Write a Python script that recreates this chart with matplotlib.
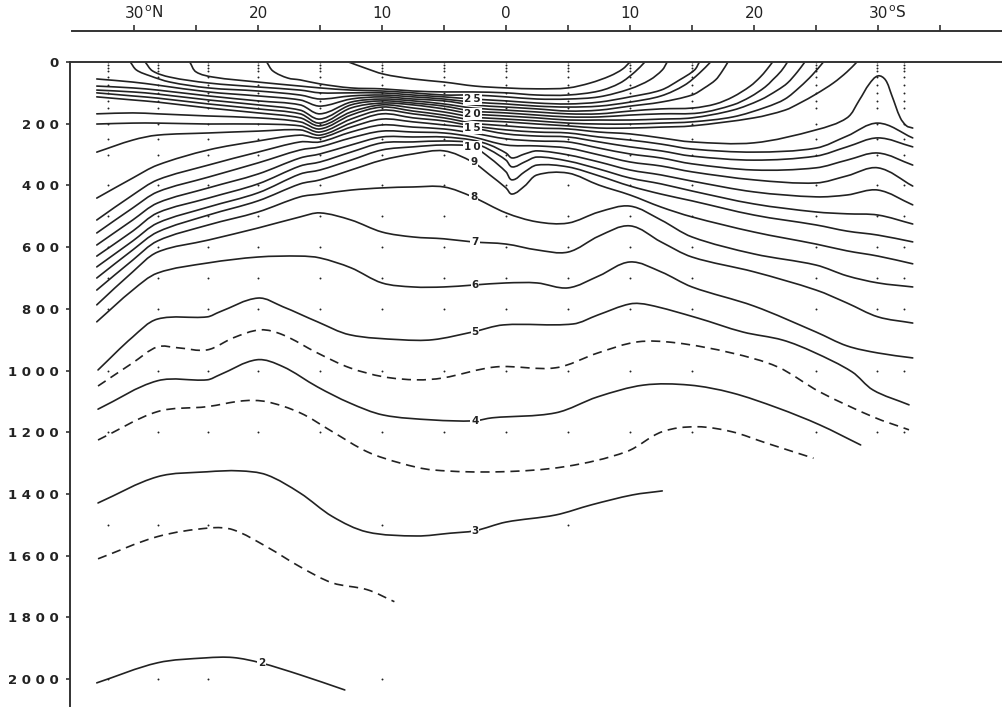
import numpy as np
import matplotlib.pyplot as plt
from matplotlib.path import Path
from matplotlib.patches import PathPatch

plt.rcParams['font.family'] = ['DejaVu Sans']

# latitude axis: negative = north, positive = south ; depth in metres
lat_cols = [-33.0, -30.1, -28.1, -24.0, -20.0, -16.6, -15.0, -12.5, -10.0, -7.5, -5.0, -2.7,
            0.0, 2.5, 5.0, 7.5, 10.0, 12.5, 15.0, 20.0, 25.0, 27.5, 30.0, 32.8]
# same columns with extra points through the equatorial trough
lat_v = [-33.0, -30.1, -28.1, -24.0, -20.0, -16.6, -15.0, -12.5, -10.0, -7.5, -5.0, -2.7, -1.3,
         0.0, 0.5, 1.5, 2.5, 5.0, 7.5, 10.0, 12.5, 15.0, 20.0, 25.0, 27.5, 30.0, 32.8]

d6 = [842, 739, 684, 651, 632, 629, 635, 667, 716, 729, 729, 723, 716, 716, 732, 693, 648, 680, 729, 791, 875, 920, 943, 959]
d7 = [787, 680, 616, 577, 538, 502, 489, 512, 551, 567, 573, 583, 590, 609, 616, 564, 531, 583, 632, 680, 739, 781, 826, 846]
d8 = [739, 642, 580, 528, 486, 437, 428, 415, 408, 405, 405, 437, 489, 518, 522, 486, 467, 512, 567, 622, 658, 693, 716, 729]
d9 = [700, 609, 551, 496, 450, 395, 382, 350, 318, 298, 288, 324, 366, 408, 428, 402, 366, 360, 399, 431, 470, 502, 551, 590, 612, 629, 654]
d10 = [664, 580, 522, 470, 424, 363, 350, 318, 285, 275, 269, 275, 311, 356, 382, 356, 334, 340, 369, 402, 428, 450, 496, 528, 548, 561, 583]
d11 = [629, 548, 489, 441, 395, 337, 324, 292, 262, 259, 256, 262, 285, 318, 340, 324, 308, 321, 347, 376, 395, 418, 460, 486, 492, 496, 525]
d12 = [593, 512, 457, 408, 363, 311, 298, 269, 243, 243, 243, 253, 269, 295, 311, 298, 288, 301, 324, 350, 366, 386, 421, 437, 431, 415, 463]
d13 = [554, 473, 421, 373, 327, 285, 275, 246, 224, 227, 230, 243, 269, 272, 279, 301, 324, 337, 356, 382, 392, 369, 343, 402]
d14 = [512, 431, 382, 334, 292, 259, 259, 227, 204, 211, 217, 230, 249, 256, 259, 279, 298, 311, 330, 350, 343, 318, 295, 334]
d15 = [441, 376, 334, 285, 256, 237, 246, 211, 185, 194, 204, 214, 233, 240, 243, 259, 275, 288, 305, 318, 305, 275, 246, 275]
d16 = [292, 253, 237, 230, 224, 220, 237, 198, 168, 181, 191, 207, 220, 227, 230, 243, 253, 266, 282, 292, 279, 240, 198, 246]

lat17 = [-33.0, -30.1, -28.1, -24.0, -20.0, -16.6, -15.0, -12.5, -10.0, -7.5, -5.0, -2.7, 0.0, 2.5, 5.0,
         7.5, 10.0, 12.5, 15.0, 20.0, 25.0, 27.5, 28.5, 29.3, 30.0, 30.6, 31.1, 31.8, 32.3, 32.8]
d17 = [201, 198, 198, 201, 201, 207, 227, 185, 156, 168, 181, 198, 207, 214, 217,
       227, 233, 246, 259, 262, 220, 181, 123, 71, 45, 58, 107, 181, 207, 214]
lat18 = [-33.0, -30.1, -28.1, -24.0, -20.0, -16.6, -15.0, -12.5, -10.0, -7.5, -5.0, -2.7, 0.0, 2.5, 5.0,
         7.5, 10.0, 12.5, 15.0, 20.0, 22.5, 23.7, 25.0, 26.4, 27.5, 28.3]
d18 = [168, 165, 168, 175, 181, 194, 217, 172, 146, 159, 172, 188, 194, 201, 207,
       214, 214, 211, 207, 181, 156, 133, 104, 68, 32, 0]
lat19 = [-33.0, -30.1, -28.1, -24.0, -20.0, -16.6, -15.0, -12.5, -10.0, -7.5, -5.0, -2.7, 0.0, 2.5, 5.0,
         7.5, 10.0, 12.5, 15.0, 18.3, 21.0, 22.5, 23.7, 24.7, 25.6]
d19 = [113, 123, 130, 149, 165, 181, 207, 162, 139, 149, 162, 178, 185, 191, 198,
       201, 201, 198, 194, 178, 146, 120, 81, 42, 0]
lat20 = [-33.0, -30.1, -28.1, -24.0, -20.0, -16.6, -15.0, -12.5, -10.0, -7.5, -5.0, -2.7, 0.0, 2.5, 5.0,
         7.5, 10.0, 12.5, 15.0, 18.3, 20.5, 21.9, 22.7, 23.5, 24.1]
d20 = [100, 110, 117, 136, 152, 168, 198, 149, 133, 139, 152, 168, 175, 181, 188,
       188, 188, 185, 181, 156, 123, 91, 68, 32, 0]
lat21 = [-33.0, -30.1, -28.1, -24.0, -20.0, -16.6, -15.0, -12.5, -10.0, -7.5, -5.0, -2.7, 0.0, 2.5, 5.0,
         7.5, 10.0, 12.5, 15.6, 18.3, 19.7, 20.9, 21.5, 22.2, 22.7]
d21 = [91, 97, 104, 123, 139, 156, 185, 139, 126, 133, 143, 159, 165, 172, 178,
       178, 172, 168, 165, 139, 113, 81, 58, 29, 0]
lat22 = [-33.0, -30.1, -28.1, -24.0, -20.0, -16.6, -15.0, -12.5, -10.0, -7.5, -5.0, -2.7, 0.0, 2.5, 5.0,
         7.5, 10.0, 12.5, 15.1, 16.9, 18.3, 19.7, 20.5, 21.0, 21.5]
d22 = [78, 84, 91, 110, 126, 139, 168, 130, 120, 126, 136, 149, 156, 162, 168,
       168, 159, 152, 149, 136, 113, 78, 49, 26, 0]
lat23 = [-33.0, -30.1, -28.1, -24.0, -20.0, -16.6, -15.0, -12.5, -10.0, -7.5, -5.0, -2.7, 0.0, 2.5, 5.0,
         7.5, 10.0, 12.5, 15.0, 16.0, 16.9, 17.4, 17.9]
d23 = [55, 65, 75, 97, 110, 123, 143, 120, 113, 120, 126, 139, 146, 152, 159,
       156, 143, 130, 107, 84, 58, 32, 0]
lat24 = [-30.3, -29.8, -28.7, -27.1, -24.0, -20.0, -16.6, -15.0, -12.5, -10.0, -7.5, -5.0, -2.7, 0.0,
         2.5, 5.0, 7.5, 10.0, 12.5, 14.4, 15.6, 16.5]
d24 = [0, 26, 45, 65, 84, 94, 107, 120, 110, 107, 113, 120, 130, 136, 143, 146, 143, 130, 110, 75, 36, 0]
lat25 = [-29.1, -28.5, -27.1, -24.0, -20.0, -16.6, -15.0, -12.5, -10.0, -7.5, -5.0, -2.7, 0.0, 2.5,
         5.0, 7.5, 10.0, 12.5, 14.0, 15.2, 15.6]
d25 = [0, 29, 49, 68, 81, 91, 100, 100, 100, 107, 113, 120, 126, 133, 136, 130, 113, 91, 58, 26, 0]
lat26 = [-25.5, -25.0, -23.6, -20.0, -16.6, -15.0, -12.5, -10.0, -7.5, -5.0, -2.7, 0.0, 2.5, 5.0,
         7.5, 10.0, 11.6, 12.6, 13.0]
d26 = [0, 32, 49, 65, 78, 84, 91, 94, 100, 107, 107, 113, 120, 120, 113, 87, 58, 26, 0]
lat27 = [-19.3, -18.8, -17.6, -16.6, -15.0, -12.5, -10.0, -7.5, -5.0, -2.7, 0.0, 2.5, 5.0, 7.5, 9.2, 10.4, 11.2]
d27 = [0, 29, 52, 58, 71, 84, 87, 94, 97, 97, 100, 107, 107, 94, 68, 32, 0]
lat28 = [-12.7, -11.4, -9.9, -7.5, -5.0, -2.5, 0.0, 2.5, 5.0, 6.8, 8.4, 9.4, 10.0]
d28 = [0, 19, 39, 55, 65, 78, 84, 87, 84, 68, 45, 23, 0]

# deep isotherms
lat5 = [-32.9, -30.1, -28.1, -24.1, -23.1, -20.0, -18.0, -15.2, -12.6, -8.5, -5.9, -2.7, -0.2, 5.4, 7.4,
        10.0, 11.5, 15.4, 19.1, 22.3, 24.8, 27.9, 29.6, 32.5]
d5 = [998, 891, 833, 826, 810, 765, 793, 842, 884, 900, 900, 875, 852, 849, 820,
      784, 787, 829, 875, 901, 940, 1004, 1063, 1111]
lat45 = [-32.9, -30.1, -28.1, -26.5, -24.1, -22.0, -19.8, -18.0, -15.2, -12.6, -9.9, -7.2, -5.1, -0.8,
         4.0, 7.4, 10.6, 13.7, 18.2, 21.9, 25.3, 29.6, 32.5]
d45 = [1050, 975, 923, 926, 933, 894, 868, 884, 943, 991, 1020, 1030, 1024, 988,
       991, 943, 907, 910, 943, 988, 1069, 1150, 1192]
lat4 = [-32.9, -28.1, -24.1, -23.1, -20.1, -18.0, -15.2, -12.6, -9.9, -5.9, -2.6, -1.1, 4.0, 7.4,
        11.1, 14.8, 18.2, 21.9, 25.3, 28.6]
d4 = [1125, 1033, 1030, 1014, 965, 987, 1053, 1105, 1144, 1160, 1163, 1153, 1137, 1085,
      1047, 1047, 1072, 1121, 1176, 1241]
lat35 = [-32.9, -28.1, -24.1, -21.2, -19.3, -16.6, -14.0, -11.2, -8.5, -5.9, -0.5, 4.8, 9.7, 12.6,
         15.4, 18.2, 21.0, 24.8]
d35 = [1225, 1133, 1117, 1098, 1101, 1137, 1198, 1263, 1300, 1322, 1328, 1311, 1263, 1198,
       1182, 1198, 1235, 1284]
lat3 = [-32.9, -28.1, -24.1, -21.5, -19.3, -16.6, -14.0, -11.2, -7.2, -4.5, -2.5, 0.0, 4.0, 6.9, 10.2, 12.6]
d3 = [1429, 1344, 1328, 1325, 1338, 1397, 1473, 1523, 1536, 1527, 1519, 1491, 1468, 1435, 1403, 1390]
lat25d = [-32.9, -28.1, -23.9, -22.0, -19.3, -16.6, -14.0, -11.2, -9.0]
d25d = [1610, 1538, 1510, 1516, 1571, 1636, 1688, 1710, 1749]
lat2 = [-33.0, -28.1, -24.2, -22.0, -19.8, -16.6, -13.0]
d2 = [2012, 1947, 1931, 1930, 1947, 1986, 2035]

# contour labels
label_text = ['25', '20', '15', '10', '9', '8', '7', '6', '5', '4', '3', '2']
label_lat = [-2.7, -2.7, -2.7, -2.7, -2.6, -2.6, -2.5, -2.5, -2.5, -2.5, -2.5, -19.7]
label_depth = [120, 168, 214, 275, 324, 437, 583, 723, 875, 1163, 1519, 1947]

# stations and sample depths
station_lat = [-32.1, -28.1, -24.0, -20.0, -15.0, -10.0, -5.0, 0.0, 5.0, 10.0, 15.0, 25.0, 29.9, 32.1]
station_deep = [2000, 2000, 2000, 1200, 1200, 2000, 1200, 1200, 1500, 1200, 1200, 1200, 1200, 1200]
std_depths = [0, 10, 20, 30, 50, 75, 100, 125, 150, 200, 250, 300, 400, 500, 600, 700, 800,
              1000, 1200, 1500, 2000]

depth_ticks = list(range(0, 2001, 200))
lat_major = [-30, -20, -10, 0, 10, 20, 30]
lat_minor = [-25, -15, -5, 5, 15, 25, 35]
lat_names = ['30', '20', '10', '0', '10', '20', '30']

ink = '#222222'
SX, SY = 12.4, 1 / 3.24   # screen aspect of one degree and one metre, used for smooth tangents


def smooth_path(lat, dep):
    p = np.column_stack([np.asarray(lat, float) * SX, np.asarray(dep, float) * SY])
    tang = np.zeros_like(p)
    tang[0] = p[1] - p[0]
    tang[-1] = p[-1] - p[-2]
    tang[1:-1] = p[2:] - p[:-2]
    tang /= np.linalg.norm(tang, axis=1, keepdims=True)
    verts = [p[0]]
    codes = [Path.MOVETO]
    for i in range(len(p) - 1):
        L = np.linalg.norm(p[i + 1] - p[i]) / 3.0
        verts += [p[i] + tang[i] * L, p[i + 1] - tang[i + 1] * L, p[i + 1]]
        codes += [Path.CURVE4] * 3
    v = np.array(verts) / [SX, SY]
    return Path(v, codes)


fig = plt.figure(figsize=(10.03, 7.10), dpi=100)
ax = fig.add_axes([70 / 1003, 4 / 710, 933 / 1003, 644 / 710])
ax.set_xlim(-35.16, 40.08)
ax.set_ylim(2087, 0)

solid = [(lat_cols, d6), (lat_cols, d7), (lat_cols, d8), (lat_v, d9), (lat_v, d10), (lat_v, d11),
         (lat_v, d12), (lat_cols, d13), (lat_cols, d14), (lat_cols, d15), (lat_cols, d16),
         (lat17, d17), (lat18, d18), (lat19, d19), (lat20, d20), (lat21, d21), (lat22, d22),
         (lat23, d23), (lat24, d24), (lat25, d25), (lat26, d26), (lat27, d27), (lat28, d28),
         (lat5, d5), (lat4, d4), (lat3, d3), (lat2, d2)]
dashed = [(lat45, d45), (lat35, d35), (lat25d, d25d)]

for la, dd in solid:
    ax.add_patch(PathPatch(smooth_path(la, dd), fill=False, edgecolor=ink, lw=1.2,
                           capstyle='round', joinstyle='round', zorder=2))
for la, dd in dashed:
    ax.add_patch(PathPatch(smooth_path(la, dd), fill=False, edgecolor=ink, lw=1.2,
                           linestyle=(0, (5.5, 3.5)), zorder=2))

# station sample points
for la, dmax in zip(station_lat, station_deep):
    ds = [d for d in std_depths if d <= dmax]
    ax.plot([la] * len(ds), ds, ls='none', marker='o', ms=1.4, mew=0, color=ink, zorder=1)

for t, la, dp in zip(label_text, label_lat, label_depth):
    ax.text(la, dp, '\u2009'.join(t), fontsize=7.5, fontweight='bold', color=ink,
            ha='center', va='center', zorder=5,
            bbox=dict(boxstyle='square,pad=0.08', fc='white', ec='none'))

for s in ['right', 'bottom']:
    ax.spines[s].set_visible(False)
for s in ['left', 'top']:
    ax.spines[s].set_linewidth(1.4)
    ax.spines[s].set_color('#333333')
ax.set_xticks([])
ax.set_yticks(depth_ticks)
ax.set_yticklabels([' '.join(str(v)) for v in depth_ticks])
ax.tick_params(axis='y', direction='out', length=3, width=1.2, pad=5, labelsize=9.5,
               labelcolor=ink, color='#333333')
for lab in ax.get_yticklabels():
    lab.set_fontweight('bold')

# latitude scale on top
axt = fig.add_axes([72 / 1003, 1 - 31 / 710, 931 / 1003, 1e-4])
axt.set_xlim(-35.0, 40.08)
axt.set_yticks([])
for s in ['right', 'bottom', 'left']:
    axt.spines[s].set_visible(False)
axt.spines['top'].set_linewidth(1.4)
axt.spines['top'].set_color('#333333')
axt.xaxis.set_ticks_position('top')
axt.set_xticks(lat_major)
axt.set_xticklabels(lat_names)
axt.set_xticks(lat_minor, minor=True)
axt.tick_params(axis='x', which='both', direction='out', length=4, width=1.2, pad=3,
                labelsize=11, labelcolor=ink, color='#333333')
axt.annotate('$^{\\mathrm{o}}$N', xy=(lat_major[0], 1), xycoords=('data', 'axes fraction'),
             xytext=(7.5, 7), textcoords='offset points', ha='left', va='bottom',
             fontsize=11, color=ink)
axt.annotate('$^{\\mathrm{o}}$S', xy=(lat_major[-1], 1), xycoords=('data', 'axes fraction'),
             xytext=(7.5, 7), textcoords='offset points', ha='left', va='bottom',
             fontsize=11, color=ink)

fig.savefig('out.png', dpi=100)
